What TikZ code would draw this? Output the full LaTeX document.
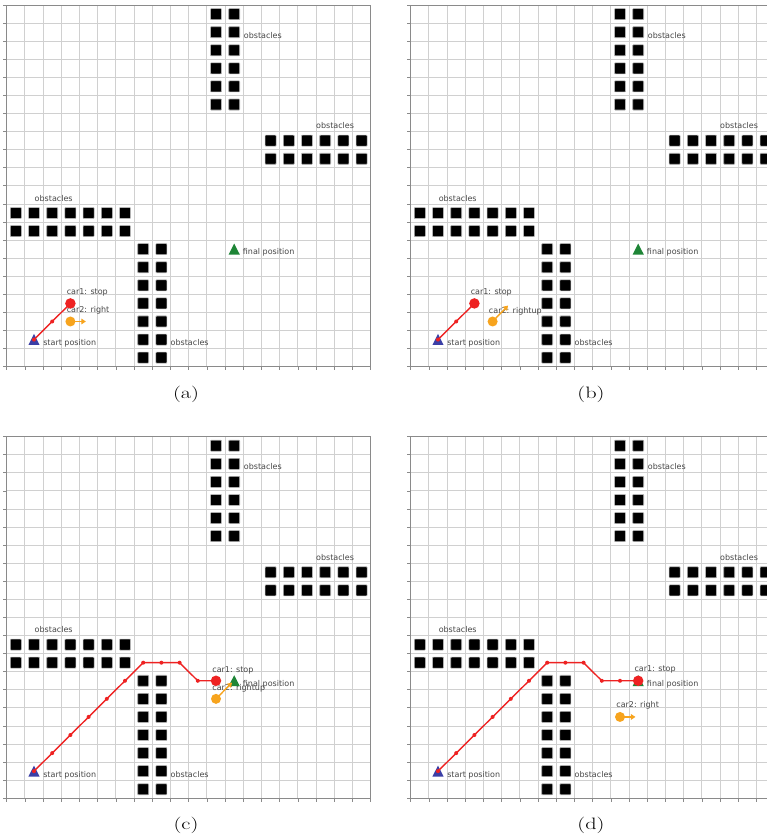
\documentclass[tikz,border=0pt]{standalone}
\usepackage{fontspec}
\newfontfamily\dejavusans{DejaVu Sans}
\usetikzlibrary{arrows.meta}
\definecolor{gridgray}{HTML}{D0D0D0}
\definecolor{spinegray}{HTML}{8A8A8A}
\definecolor{carred}{HTML}{EE2222}
\definecolor{carorange}{HTML}{F7A41E}
\definecolor{startblue}{HTML}{3B3FA6}
\definecolor{finalgreen}{HTML}{1E8536}
\definecolor{labelgray}{HTML}{474747}
\tikzset{
  panel/.style={x=18.2pt,y=18.08pt},
  gridline/.style={draw=gridgray,line width=0.9pt},
  spine/.style={draw=spinegray,line width=1pt},
  tickmark/.style={draw=spinegray,line width=0.8pt},
  obst/.style={rectangle,fill=black,draw=black!30,line width=0.6pt,minimum size=11pt,inner sep=0pt,rounded corners=0.7pt},
  lbl/.style={anchor=west,inner sep=0pt,text=labelgray,font=\dejavusans\fontsize{8}{9}\selectfont,text height=5.9pt,text depth=1.6pt},
  pathline/.style={draw=carred,line width=1.4pt},
  pathdot/.style={circle,fill=carred,inner sep=0pt,minimum size=4pt},
  carone/.style={circle,fill=carred,inner sep=0pt,minimum size=10.5pt},
  cartwo/.style={circle,fill=carorange,inner sep=0pt,minimum size=10pt},
  headarrow/.style={draw=carorange,line width=1.4pt,-{Triangle[length=4.5pt,width=5.5pt]}},
  capt/.style={font=\fontsize{16.5}{19}\selectfont,inner sep=0pt,xscale=1.35,transform shape},
}
\newcommand{\trimark}[2]{\fill[#2,shift={(#1)}] (0,5.6pt) -- (-5.6pt,-5.4pt) -- (5.6pt,-5.4pt) -- cycle;}
\newcommand{\basepanel}[1]{%
  \foreach \k in {1,...,19}{\draw[gridline] (\k,0) -- (\k,20); \draw[gridline] (0,\k) -- (20,\k);}
  \foreach \k in {0,...,20}{\draw[tickmark] (\k,0) -- ++(0,-3.5pt); \draw[tickmark] (0,\k) -- ++(-3.5pt,0);}
  \draw[spine] (0,0) rectangle (20,20);
  \foreach \cx in {7,8}{\foreach \ry in {0,...,6}{\node[obst] (#1-bo-\cx-\ry) at (\cx+0.5,\ry+0.5) {};}}
  \foreach \cx in {0,...,6}{\foreach \ry in {7,8}{\node[obst] (#1-lo-\cx-\ry) at (\cx+0.5,\ry+0.5) {};}}
  \foreach \cx in {11,12}{\foreach \ry in {14,...,19}{\node[obst] (#1-to-\cx-\ry) at (\cx+0.5,\ry+0.5) {};}}
  \foreach \cx in {14,...,19}{\foreach \ry in {11,12}{\node[obst] (#1-ro-\cx-\ry) at (\cx+0.5,\ry+0.5) {};}}
  \node[lbl] (#1-lt) at (13.02,18.29) {obstacles};
  \node[lbl] (#1-lr) at (16.99,13.27) {obstacles};
  \node[lbl] (#1-ll) at (1.53,9.27) {obstacles};
  \node[lbl] (#1-lb) at (9.0,1.29) {obstacles};
  \node[lbl] (#1-ls) at (2.0,1.29) {start position};
  \node[lbl] (#1-lf) at (12.97,6.32) {final position};
  \coordinate (#1-start) at (1.5,1.5);
  \coordinate (#1-final) at (12.5,6.5);
}
\newcommand{\placemarks}[1]{\trimark{#1-start}{startblue}\trimark{#1-final}{finalgreen}}
\begin{document}
\begin{tikzpicture}
\clip (0,0) rectangle (767pt,837pt);
\fill[white] (0,0) rectangle (767pt,837pt);
% ---------------- (a)
\begin{scope}[shift={(6.7pt,470.3pt)},panel]
  \basepanel{a}
  \node[lbl] (a-l1) at (3.29,4.1) {car1: stop};
  \node[lbl] (a-l2) at (3.29,3.1) {car2: right};
  \placemarks{a}
  \draw[pathline] (a-start) -- (2.5,2.5) coordinate (a-p2) -- (3.5,3.5) coordinate (a-c1);
  \node[pathdot] (a-d1) at (a-start) {};
  \node[pathdot] (a-d2) at (a-p2) {};
  \node[carone] (a-car1) at (a-c1) {};
  \coordinate (a-c2) at (3.5,2.5);
  \coordinate (a-h2) at (4.35,2.5);
  \draw[headarrow] (a-c2) -- (a-h2);
  \node[cartwo] (a-car2) at (a-c2) {};
\end{scope}
% ---------------- (b)
\begin{scope}[shift={(410.7pt,470.3pt)},panel]
  \basepanel{b}
  \node[lbl] (b-l1) at (3.29,4.1) {car1: stop};
  \node[lbl] (b-l2) at (4.29,3.08) {car2: rightup};
  \placemarks{b}
  \draw[pathline] (b-start) -- (2.5,2.5) coordinate (b-p2) -- (3.5,3.5) coordinate (b-c1);
  \node[pathdot] (b-d1) at (b-start) {};
  \node[pathdot] (b-d2) at (b-p2) {};
  \node[carone] (b-car1) at (b-c1) {};
  \coordinate (b-c2) at (4.5,2.5);
  \coordinate (b-h2) at (5.35,3.38);
  \draw[headarrow] (b-c2) -- (b-h2);
  \node[cartwo] (b-car2) at (b-c2) {};
\end{scope}
% ---------------- (c)
\begin{scope}[shift={(6.7pt,38.7pt)},panel]
  \basepanel{c}
  \node[lbl] (c-l1) at (11.29,7.1) {car1: stop};
  \node[lbl] (c-l2) at (11.29,6.08) {car2: rightup};
  \placemarks{c}
  \draw[pathline] (c-start) coordinate (c-p1) -- (2.5,2.5) coordinate (c-p2) -- (3.5,3.5) coordinate (c-p3)
    -- (4.5,4.5) coordinate (c-p4) -- (5.5,5.5) coordinate (c-p5) -- (6.5,6.5) coordinate (c-p6)
    -- (7.5,7.5) coordinate (c-p7) -- (8.5,7.5) coordinate (c-p8) -- (9.5,7.5) coordinate (c-p9)
    -- (10.5,6.5) coordinate (c-p10) -- (11.5,6.5) coordinate (c-c1);
  \foreach \n in {1,...,10}{\node[pathdot] (c-d\n) at (c-p\n) {};}
  \node[carone] (c-car1) at (c-c1) {};
  \coordinate (c-c2) at (11.5,5.5);
  \coordinate (c-h2) at (12.38,6.4);
  \draw[headarrow] (c-c2) -- (c-h2);
  \node[cartwo] (c-car2) at (c-c2) {};
\end{scope}
% ---------------- (d)
\begin{scope}[shift={(410.7pt,38.7pt)},panel]
  \basepanel{d}
  \node[lbl] (d-l1) at (12.29,7.12) {car1: stop};
  \node[lbl] (d-l2) at (11.29,5.12) {car2: right};
  \placemarks{d}
  \draw[pathline] (d-start) coordinate (d-p1) -- (2.5,2.5) coordinate (d-p2) -- (3.5,3.5) coordinate (d-p3)
    -- (4.5,4.5) coordinate (d-p4) -- (5.5,5.5) coordinate (d-p5) -- (6.5,6.5) coordinate (d-p6)
    -- (7.5,7.5) coordinate (d-p7) -- (8.5,7.5) coordinate (d-p8) -- (9.5,7.5) coordinate (d-p9)
    -- (10.5,6.5) coordinate (d-p10) -- (11.5,6.5) coordinate (d-p11) -- (d-final) coordinate (d-c1);
  \foreach \n in {1,...,11}{\node[pathdot] (d-d\n) at (d-p\n) {};}
  \node[carone] (d-car1) at (d-c1) {};
  \coordinate (d-c2) at (11.5,4.5);
  \coordinate (d-h2) at (12.35,4.5);
  \draw[headarrow] (d-c2) -- (d-h2);
  \node[cartwo] (d-car2) at (d-c2) {};
\end{scope}
% captions
\node[capt] (capa) at (186pt,443pt) {(a)};
\node[capt] (capb) at (591pt,443pt) {(b)};
\node[capt] (capc) at (186pt,11.4pt) {(c)};
\node[capt] (capd) at (591pt,11.4pt) {(d)};
\end{tikzpicture}
\end{document}
